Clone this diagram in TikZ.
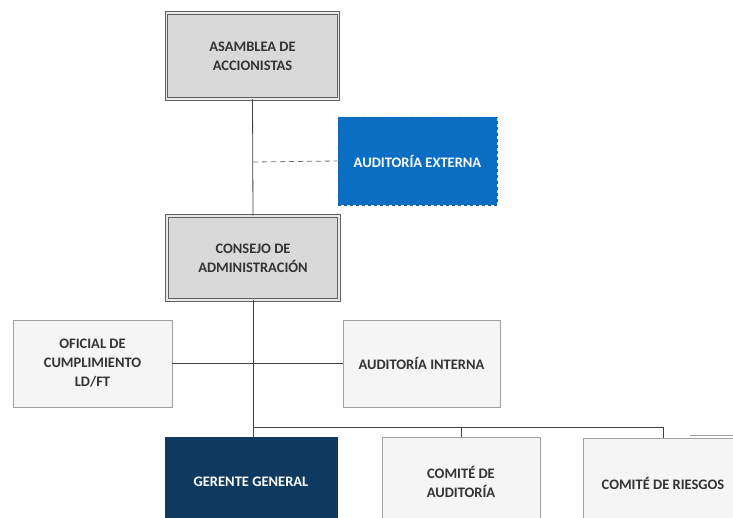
\documentclass[tikz,border=0pt]{standalone}
\usepackage{fontspec}
\setmainfont{Carlito}
\definecolor{boxgray}{HTML}{D9D9D9}
\definecolor{boxlight}{HTML}{F5F5F5}
\definecolor{edgegray}{HTML}{A0A0A0}
\definecolor{darkedge}{HTML}{606060}
\definecolor{extblue}{HTML}{0A6FC2}
\definecolor{extedge}{HTML}{1F5A99}
\definecolor{navy}{HTML}{0F3A60}
\definecolor{txt}{HTML}{333333}
\begin{document}
\begin{tikzpicture}[x=1pt,y=-1pt,
  every node/.style={font=\fontsize{14.5}{19}\selectfont\bfseries, align=center, inner sep=0pt},
  mainbox/.style={rectangle, draw=darkedge, line width=0.9pt, double=boxgray!60, double distance=1.6pt, fill=boxgray, text=txt},
  plainbox/.style={rectangle, draw=edgegray, line width=0.8pt, fill=boxlight, text=txt},
  extbox/.style={rectangle, draw=extedge, dashed, line width=0.9pt, fill=extblue, text=white},
  navybox/.style={rectangle, draw=navy, fill=navy, text=white},
  conn/.style={draw=black!75, line width=0.8pt},
  dconn/.style={draw=black!55, line width=0.8pt, dash pattern=on 5pt off 4pt}]
\useasboundingbox (0,0) rectangle (733,518);
\clip (0,0) rectangle (733,518);
\fill[white] (0,0) rectangle (733,518);

% boxes
\node[mainbox, minimum width=172pt, minimum height=86pt] (asamblea) at (252.5,56) {ASAMBLEA DE\\ACCIONISTAS};
\node[extbox, minimum width=159pt, minimum height=88pt] (externa) at (417.5,161) {AUDITORÍA EXTERNA};
\node[mainbox, minimum width=172pt, minimum height=84pt] (consejo) at (253,258) {CONSEJO DE\\ADMINISTRACIÓN};
\node[plainbox, minimum width=159pt, minimum height=87pt] (oficial) at (92.5,363.5) {OFICIAL DE\\CUMPLIMIENTO\\LD/FT};
\node[plainbox, minimum width=157pt, minimum height=87pt] (interna) at (421.5,363.5) {AUDITORÍA INTERNA};

% partially hidden box behind Comité de Riesgos
\draw[edgegray, line width=0.8pt] (690,435) -- (740,435);

\node[navybox, minimum width=172pt, minimum height=90pt] (gerente) at (251,482) {GERENTE GENERAL};
\node[plainbox, minimum width=158pt, minimum height=90pt] (auditoria) at (461,482) {COMITÉ DE\\AUDITORÍA};
\node[plainbox, minimum width=160pt, minimum height=90pt] (riesgos) at (663,483) {COMITÉ DE RIESGOS};

% connectors
\coordinate (ext) at (253,162);
\coordinate (bus) at (253,427);
\draw[conn] (asamblea.south) -- (consejo.north);
\draw[dconn] (ext) -- (externa.west);
\draw[conn] (oficial.east) -- (interna.west);
\draw[conn] (consejo.south) -- (consejo.south |- gerente.north);
\draw[conn] (bus) -| (auditoria.north);
\draw[conn] (bus) -| (riesgos.north);
\end{tikzpicture}
\end{document}
